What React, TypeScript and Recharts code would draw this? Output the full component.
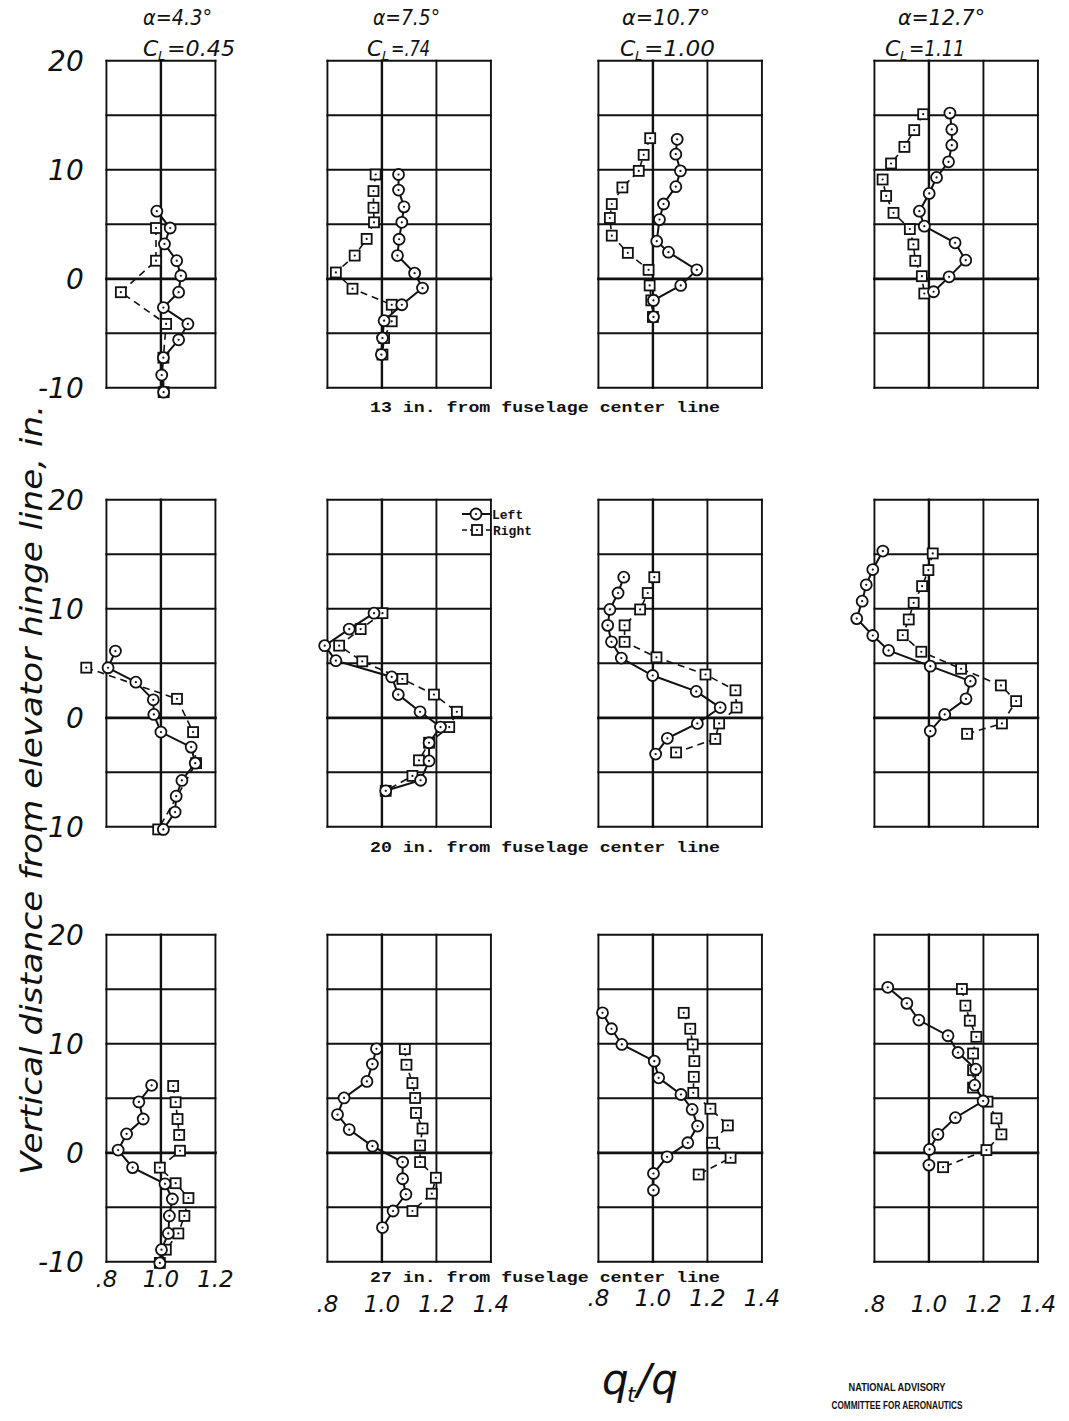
import React from "react";
import { ScatterChart, Scatter, XAxis, YAxis, ReferenceLine, Legend } from "recharts";

// tick labels / annotations
const heightTicks = [-10, 0, 10, 20];
const gridHeights = [-10, -5, 0, 5, 10, 15, 20];
const qTicksNarrow = [0.8, 1.0, 1.2];
const qTicksWide = [0.8, 1.0, 1.2, 1.4];
const alphaLabels = ["4.3", "7.5", "10.7", "12.7"];
const liftLabels = ["0.45", ".74", "1.00", "1.11"];
const stationLabels = ["13", "20", "27"];

// each pair is [height above hinge line (in.), qt/q]
// 13 in. from fuselage center line
const r1c1Left = [[6.2, 0.985], [4.66, 1.034], [3.2, 1.013], [1.66, 1.058], [0.28, 1.073], [-1.23, 1.065], [-2.64, 1.009], [-4.14, 1.099], [-5.6, 1.065], [-7.24, 1.009], [-8.83, 1.003], [-10.4, 1.01]];
const r1c1Right = [[4.66, 0.982], [1.66, 0.982], [-1.23, 0.853], [-4.14, 1.019], [-7.24, 1.009], [-10.4, 1.01]];
const r1c2Left = [[9.57, 1.061], [8.14, 1.061], [6.6, 1.081], [5.18, 1.073], [3.63, 1.063], [2.13, 1.057], [0.52, 1.12], [-0.85, 1.149], [-2.38, 1.073], [-3.84, 1.008], [-5.43, 1.002], [-6.95, 0.998]];
const r1c2Right = [[9.57, 0.977], [8.05, 0.969], [6.52, 0.969], [5.18, 0.971], [3.66, 0.944], [2.13, 0.9], [0.58, 0.831], [-0.91, 0.892], [-2.38, 1.036], [-3.9, 1.036], [-5.43, 1.008], [-6.95, 1.002]];
const r1c3Left = [[12.8, 1.089], [11.43, 1.084], [9.9, 1.101], [8.45, 1.084], [6.86, 1.039], [5.43, 1.024], [3.45, 1.014], [2.44, 1.057], [0.82, 1.161], [-0.61, 1.102], [-1.98, 1.002], [-3.5, 1.002]];
const r1c3Right = [[12.9, 0.99], [11.37, 0.966], [9.9, 0.948], [8.38, 0.888], [6.86, 0.849], [5.58, 0.842], [3.96, 0.849], [2.38, 0.908], [0.82, 0.984], [-0.61, 0.988], [-1.98, 0.994], [-3.5, 1.0]];
const r1c4Left = [[15.2, 1.077], [13.7, 1.084], [12.26, 1.084], [10.73, 1.072], [9.3, 1.028], [7.83, 1.001], [6.2, 0.965], [4.83, 0.983], [3.3, 1.096], [1.71, 1.135], [0.18, 1.074], [-1.19, 1.017]];
const r1c4Right = [[15.1, 0.979], [13.64, 0.946], [12.1, 0.91], [10.58, 0.861], [9.11, 0.83], [7.6, 0.843], [6.05, 0.87], [4.56, 0.93], [3.15, 0.943], [1.65, 0.95], [0.24, 0.974], [-1.35, 0.983]];

// 20 in. from fuselage center line
const r2c1Left = [[6.12, 0.833], [4.59, 0.806], [3.27, 0.908], [1.65, 0.972], [0.31, 0.974], [-1.31, 1.0], [-2.69, 1.111], [-4.16, 1.126], [-5.75, 1.077], [-7.19, 1.056], [-8.65, 1.052], [-10.24, 1.009]];
const r2c1Right = [[4.6, 0.726], [1.74, 1.059], [-1.31, 1.118], [-4.16, 1.129], [-10.24, 0.99]];
const r2c2Left = [[9.6, 0.971], [8.14, 0.88], [6.62, 0.79], [5.24, 0.831], [3.75, 1.036], [2.13, 1.06], [0.55, 1.14], [-0.85, 1.215], [-2.29, 1.173], [-3.96, 1.173], [-5.73, 1.142], [-6.7, 1.014]];
const r2c2Right = [[9.6, 1.002], [8.14, 0.922], [6.62, 0.843], [5.18, 0.928], [3.57, 1.075], [2.13, 1.191], [0.55, 1.275], [-0.85, 1.247], [-2.29, 1.173], [-3.9, 1.136], [-5.33, 1.112], [-6.7, 1.014]];
const r2c3Left = [[12.9, 0.893], [11.45, 0.872], [9.94, 0.842], [8.48, 0.834], [6.97, 0.848], [5.48, 0.884], [3.88, 0.999], [2.42, 1.159], [0.94, 1.247], [-0.52, 1.163], [-1.88, 1.053], [-3.33, 1.01]];
const r2c3Right = [[12.9, 1.005], [11.45, 0.981], [9.94, 0.953], [8.48, 0.896], [6.97, 0.896], [5.55, 1.013], [3.97, 1.193], [2.52, 1.303], [0.94, 1.307], [-0.52, 1.243], [-1.94, 1.229], [-3.18, 1.085]];
const r2c4Left = [[15.3, 0.831], [13.6, 0.794], [12.2, 0.77], [10.7, 0.755], [9.1, 0.735], [7.55, 0.794], [6.18, 0.852], [4.74, 1.005], [3.36, 1.152], [1.74, 1.136], [0.31, 1.058], [-1.22, 1.005]];
const r2c4Right = [[15.08, 1.014], [13.55, 0.998], [12.08, 0.975], [10.55, 0.944], [9.02, 0.926], [7.58, 0.904], [6.06, 0.972], [4.5, 1.118], [2.97, 1.264], [1.53, 1.32], [-0.52, 1.268], [-1.47, 1.14]];

// 27 in. from fuselage center line
const r3c1Left = [[6.19, 0.966], [4.67, 0.919], [3.1, 0.935], [1.73, 0.874], [0.25, 0.843], [-1.36, 0.896], [-2.85, 1.015], [-4.24, 1.042], [-5.79, 1.031], [-7.4, 1.027], [-8.89, 1.002], [-10.1, 0.996]];
const r3c1Right = [[6.13, 1.045], [4.64, 1.054], [3.1, 1.061], [1.64, 1.067], [0.19, 1.07], [-1.36, 0.996], [-2.79, 1.054], [-4.15, 1.101], [-5.79, 1.086], [-7.4, 1.064], [-8.89, 1.018], [-10.1, 0.996]];
const r3c2Left = [[9.54, 0.98], [8.14, 0.965], [6.55, 0.945], [5.03, 0.861], [3.51, 0.837], [2.13, 0.88], [0.61, 0.965], [-0.85, 1.076], [-2.38, 1.076], [-3.81, 1.088], [-5.34, 1.041], [-6.86, 1.002]];
const r3c2Right = [[9.51, 1.084], [8.08, 1.09], [6.4, 1.112], [5.03, 1.122], [3.66, 1.125], [2.23, 1.149], [0.67, 1.14], [-0.85, 1.14], [-2.29, 1.198], [-3.75, 1.183], [-5.34, 1.112]];
const r3c3Left = [[12.84, 0.815], [11.38, 0.848], [9.94, 0.886], [8.41, 1.005], [6.88, 1.021], [5.35, 1.103], [3.98, 1.144], [2.45, 1.164], [0.92, 1.128], [-0.37, 1.052], [-1.9, 1.002], [-3.43, 1.002]];
const r3c3Right = [[12.84, 1.113], [11.38, 1.137], [9.94, 1.146], [8.41, 1.152], [6.97, 1.15], [5.5, 1.148], [4.04, 1.211], [2.51, 1.275], [0.92, 1.217], [-0.46, 1.285], [-1.99, 1.168]];
const r3c4Left = [[15.18, 0.849], [13.71, 0.919], [12.18, 0.963], [10.74, 1.07], [9.2, 1.107], [7.67, 1.172], [6.2, 1.168], [4.75, 1.199], [3.22, 1.097], [1.69, 1.033], [0.31, 1.002], [-1.13, 1.0]];
const r3c4Right = [[15.03, 1.121], [13.5, 1.134], [12.12, 1.15], [10.64, 1.174], [9.11, 1.162], [7.58, 1.162], [5.98, 1.162], [4.69, 1.215], [3.16, 1.248], [1.69, 1.266], [0.25, 1.211], [-1.32, 1.052]];

const panelData = [
  [[r1c1Left, r1c1Right], [r1c2Left, r1c2Right], [r1c3Left, r1c3Right], [r1c4Left, r1c4Right]],
  [[r2c1Left, r2c1Right], [r2c2Left, r2c2Right], [r2c3Left, r2c3Right], [r2c4Left, r2c4Right]],
  [[r3c1Left, r3c1Right], [r3c2Left, r3c2Right], [r3c3Left, r3c3Right], [r3c4Left, r3c4Right]],
];

// page geometry of the panel boxes
const KX = 272.5; // px per unit qt/q
const KY = 10.9; // px per inch
const PADX = 0.13;
const PADT = 2;
const PADB = 1.6;
const colLeft = [106.7, 327, 598, 874.5];
const rowTop = [61, 500, 935];
const xLabelRowY = [1279, 1304, 1298, 1304];
const INK = "#111";
const HAND = "'DejaVu Sans', sans-serif";
const TYPE = "'Liberation Mono', monospace";

const toPoints = (arr: number[][]) => arr.map(([h, q]) => ({ x: q, y: h }));

const CircleMark = (p: any) => (
  <g>
    <circle cx={p.cx} cy={p.cy} r={5.5} fill="#fff" stroke={INK} strokeWidth={1.8} />
    <circle cx={p.cx} cy={p.cy} r={1.1} fill={INK} />
  </g>
);

const SquareMark = (p: any) => (
  <g>
    <rect x={p.cx - 5} y={p.cy - 5} width={10} height={10} fill="#fff" stroke={INK} strokeWidth={1.8} />
    <circle cx={p.cx} cy={p.cy} r={1.1} fill={INK} />
  </g>
);

const legendContent = () => (
  <svg width={110} height={36}>
    <line x1={2} y1={9} x2={30} y2={9} stroke={INK} strokeWidth={2} />
    <circle cx={16} cy={9} r={5.5} fill="#fff" stroke={INK} strokeWidth={1.8} />
    <circle cx={16} cy={9} r={1.1} fill={INK} />
    <text x={32} y={9} dy="0.35em" fontFamily={TYPE} fontWeight="bold" fontSize={13} fill={INK}>Left</text>
    <line x1={2} y1={25} x2={32} y2={25} stroke={INK} strokeWidth={1.6} strokeDasharray="5 3" />
    <rect x={12} y={20} width={10} height={10} fill="#fff" stroke={INK} strokeWidth={1.8} />
    <circle cx={17} cy={25} r={1.1} fill={INK} />
    <text x={33} y={25} dy="0.35em" fontFamily={TYPE} fontWeight="bold" fontSize={13} fill={INK}>Right</text>
  </svg>
);

function Panel({ row, col }: { row: number; col: number }) {
  const [leftArr, rightArr] = panelData[row][col];
  const xMax = col === 0 ? 1.2 : 1.4;
  const xTicks = col === 0 ? qTicksNarrow : qTicksWide;
  const showY = col === 0;
  const showX = row === 2;
  const yW = showY ? 80 : 0;
  const xH = showX ? 50 : 0;
  const plotW = (xMax - 0.8 + 2 * PADX) * KX;
  const plotH = (30 + PADT + PADB) * KY;
  const chartLeft = colLeft[col] - PADX * KX - yW;
  const chartTop = rowTop[row] - PADT * KY;
  const xLabelY = xLabelRowY[col] - chartTop;

  const YTick = (p: any) => (
    <text x={84 - chartLeft} y={p.y} dy="0.36em" textAnchor="end" fontSize={28} fontStyle="italic" fontFamily={HAND} fill={INK}>
      {p.payload.value}
    </text>
  );
  const XTick = (p: any) => (
    <text x={p.x} y={xLabelY} dy="0.36em" textAnchor="middle" fontSize={23} fontStyle="italic" fontFamily={HAND} fill={INK}>
      {p.payload.value === 0.8 ? ".8" : p.payload.value.toFixed(1)}
    </text>
  );

  return (
    <div style={{ position: "absolute", left: chartLeft, top: chartTop }}>
      <ScatterChart width={plotW + yW} height={plotH + xH} margin={{ top: 0, right: 0, bottom: 0, left: 0 }} style={{ overflow: "visible" }}>
        <XAxis type="number" dataKey="x" domain={[0.8 - PADX, xMax + PADX]} ticks={xTicks} interval={0} height={xH} axisLine={false} tickLine={false} tick={XTick} hide={!showX} />
        <YAxis type="number" dataKey="y" domain={[-10 - PADB, 20 + PADT]} ticks={heightTicks} interval={0} width={yW} axisLine={false} tickLine={false} tick={YTick} hide={!showY} />
        {xTicks.map((v) => (
          <ReferenceLine key={"v" + v} segment={[{ x: v, y: -10 }, { x: v, y: 20 }]} stroke={INK} strokeWidth={v === 1.0 ? 2.4 : 1.9} strokeLinecap="square" />
        ))}
        {gridHeights.map((h) => (
          <ReferenceLine key={"h" + h} segment={[{ x: 0.8, y: h }, { x: xMax, y: h }]} stroke={INK} strokeWidth={h === 0 ? 2.8 : 1.9} strokeLinecap="square" />
        ))}
        <Scatter name="Right" data={toPoints(rightArr)} fill={INK} shape={SquareMark} line={{ stroke: INK, strokeWidth: 1.6, strokeDasharray: "7 5" }} isAnimationActive={false} />
        <Scatter name="Left" data={toPoints(leftArr)} fill={INK} shape={CircleMark} line={{ stroke: INK, strokeWidth: 2 }} isAnimationActive={false} />
        {row === 1 && col === 1 && (
          <Legend content={legendContent} layout="horizontal" verticalAlign="middle" align="center" wrapperStyle={{ left: 460 - chartLeft, top: 505 - chartTop, width: 110, height: 36 }} />
        )}
      </ScatterChart>
    </div>
  );
}

const titlePos = [
  { ax: 143, aw: 69, cx: 143, cw: 92 },
  { ax: 373, aw: 67, cx: 367, cw: 63 },
  { ax: 622, aw: 88, cx: 620, cw: 95 },
  { ax: 898, aw: 87, cx: 885, cw: 80 },
];
const captionY = [412, 852, 1282];

export default function App() {
  return (
    <div style={{ position: "absolute", left: 0, top: 0, width: 1069, height: 1421, background: "#fff", overflow: "hidden" }}>
      {[0, 1, 2].map((r) => [0, 1, 2, 3].map((c) => <Panel key={r + "-" + c} row={r} col={c} />))}
      <svg width={1069} height={1421} style={{ position: "absolute", left: 0, top: 0, pointerEvents: "none" }}>
        {titlePos.map((t, i) => (
          <g key={i} fill={INK} fontFamily={HAND} fontStyle="italic">
            <text x={t.ax} y={25} fontSize={22} textLength={t.aw} lengthAdjust="spacingAndGlyphs">α={alphaLabels[i]}°</text>
            <text x={t.cx} y={56} fontSize={22}>C</text>
            <text x={t.cx + 15} y={60} fontSize={13}>L</text>
            <text x={t.cx + 24} y={56} fontSize={22} textLength={t.cw - 24} lengthAdjust="spacingAndGlyphs">={liftLabels[i]}</text>
          </g>
        ))}
        {stationLabels.map((s, i) => (
          <text key={s} x={370} y={captionY[i]} fontFamily={TYPE} fontWeight="bold" fontSize={14} fill={INK} textLength={350} lengthAdjust="spacingAndGlyphs">
            {s} in. from fuselage center line
          </text>
        ))}
        <text transform="translate(42,790) rotate(-90)" textAnchor="middle" fontFamily={HAND} fontStyle="italic" fontSize={30} fill={INK} textLength={770} lengthAdjust="spacingAndGlyphs">
          Vertical distance from elevator hinge line, in.
        </text>
        <g fill={INK} fontFamily={HAND} fontStyle="italic">
          <text x={602} y={1394} fontSize={42}>q</text>
          <text x={627} y={1402} fontSize={22}>t</text>
          <text x={637} y={1394} fontSize={42}>/q</text>
        </g>
        <text x={897} y={1391} textAnchor="middle" fontFamily="'Liberation Sans', sans-serif" fontWeight="bold" fontSize={10.5} fill={INK} textLength={97} lengthAdjust="spacingAndGlyphs">NATIONAL ADVISORY</text>
        <text x={897} y={1409} textAnchor="middle" fontFamily="'Liberation Sans', sans-serif" fontWeight="bold" fontSize={10.5} fill={INK} textLength={131} lengthAdjust="spacingAndGlyphs">COMMITTEE FOR AERONAUTICS</text>
      </svg>
    </div>
  );
}
